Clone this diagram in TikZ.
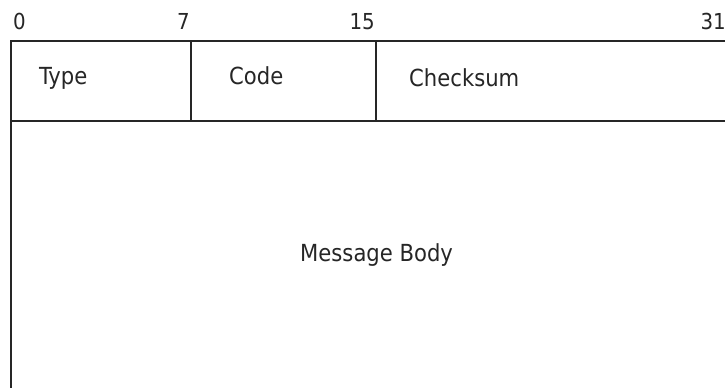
\documentclass[tikz,border=0pt]{standalone}
\usepackage{fontspec}
\setmainfont{DejaVu Sans Condensed}
\begin{document}
\begin{tikzpicture}[x=1pt,y=-1pt,
  rule/.style={line width=1.3pt,draw=black!85},
  bitlabel/.style={inner sep=0pt,anchor=base west,font=\fontsize{22}{26}\selectfont,text=black!85},
  fieldlabel/.style={inner sep=0pt,anchor=base west,font=\fontsize{23.5}{28}\selectfont,text=black!85}]
  \useasboundingbox[fill=white] (0,0) rectangle (725,388);
  % header frame and field dividers
  \draw[rule] (725,41) -- (11,41) -- (11,388);
  \draw[rule] (11,121) -- (725,121);
  \draw[rule] (191,41) -- (191,121);
  \draw[rule] (376,41) -- (376,121);
  % bit positions
  \node[bitlabel] (b0) at (13,29) {0};
  \node[bitlabel,anchor=base east] (b7) at (190,29) {7};
  \node[bitlabel,anchor=base east] (b15) at (375,29) {15};
  \node[bitlabel,anchor=base east] (b31) at (726,29) {31};
  % field names
  \node[fieldlabel] (type) at (39,84) {Type};
  \node[fieldlabel] (code) at (229,84) {Code};
  \node[fieldlabel] (checksum) at (409,86) {Checksum};
  \node[fieldlabel] (body) at (300,261) {Message Body};
\end{tikzpicture}
\end{document}
